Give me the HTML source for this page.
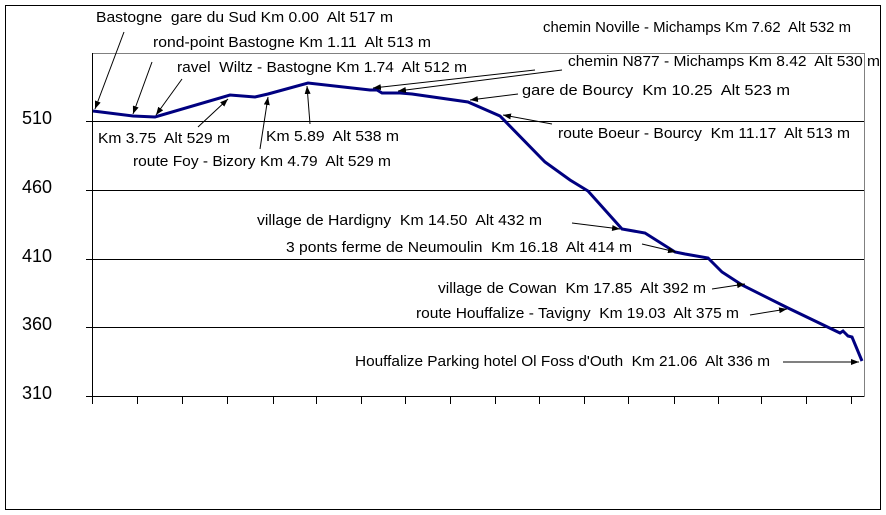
<!DOCTYPE html>
<html><head><style>body{margin:0;background:#fff}svg{display:block}text{font-family:"Liberation Sans",Arial,sans-serif;font-size:14.5px;fill:#000;white-space:pre}text.y{font-size:18px}</style></head><body>
<svg width="886" height="515" viewBox="0 0 886 515" xml:space="preserve">
<defs><marker id="a" markerWidth="8" markerHeight="6" refX="8" refY="3" orient="auto" markerUnits="userSpaceOnUse"><path d="M0,0L8,3L0,6z" fill="#000"/></marker></defs>
<rect x="5.5" y="5.5" width="875" height="504" fill="#fff" stroke="#000"/>
<rect x="92.5" y="53.5" width="772" height="343" fill="none" stroke="#808080"/>
<g stroke="#000" stroke-width="1">
<line x1="86" y1="121.5" x2="864" y2="121.5"/><line x1="86" y1="190.5" x2="864" y2="190.5"/><line x1="86" y1="259.5" x2="864" y2="259.5"/><line x1="86" y1="327.5" x2="864" y2="327.5"/><line x1="86" y1="396.5" x2="864" y2="396.5"/>
<line x1="92.5" y1="53" x2="92.5" y2="397"/>
<path d="M92.5 396v8M137.5 396v8M182.5 396v8M227.5 396v8M273.5 396v8M316.5 396v8M361.5 396v8M405.5 396v8M450.5 396v8M495.5 396v8M539.5 396v8M584.5 396v8M628.5 396v8M674.5 396v8M718.5 396v8M761.5 396v8M806.5 396v8M851.5 396v8"/>
</g>
<text class="y" x="22" y="124">510</text><text class="y" x="22" y="193">460</text><text class="y" x="22" y="262">410</text><text class="y" x="22" y="330">360</text><text class="y" x="22" y="399">310</text>
<polyline fill="none" stroke="#000080" stroke-width="3" points="93,111 133,116 155,117 230,95 255,97 268,94 308,83 370,90 377,90 382,93 400,93 412,94 468,102 500,116 545,162 570,180 588,191 622,229 645,233 675,252 685,254 708,258 722,272 742,285 788,308 840,333 843,331 848,336 852,337 862,361"/>
<g stroke="#000" stroke-width="1" marker-end="url(#a)">
<line x1="124" y1="32" x2="95" y2="109"/>
<line x1="152" y1="62" x2="133" y2="114"/>
<line x1="182" y1="79" x2="156" y2="115"/>
<line x1="198" y1="127" x2="228" y2="99"/>
<line x1="260" y1="149" x2="268" y2="97"/>
<line x1="310" y1="124" x2="307" y2="86"/>
<line x1="535" y1="70" x2="373" y2="88"/>
<line x1="562" y1="70" x2="398" y2="91"/>
<line x1="518" y1="94" x2="470" y2="100"/>
<line x1="552" y1="124" x2="503" y2="115"/>
<line x1="572" y1="223" x2="620" y2="229"/>
<line x1="642" y1="244" x2="676" y2="252"/>
<line x1="712" y1="289" x2="745" y2="284"/>
<line x1="750" y1="315" x2="787" y2="309"/>
<line x1="783" y1="362" x2="859" y2="362"/>
</g>
<text x="96" y="22" textLength="297" lengthAdjust="spacingAndGlyphs">Bastogne  gare du Sud Km 0.00  Alt 517 m</text>
<text x="153" y="47" textLength="278" lengthAdjust="spacingAndGlyphs">rond-point Bastogne Km 1.11  Alt 513 m</text>
<text x="177" y="72" textLength="290" lengthAdjust="spacingAndGlyphs">ravel  Wiltz - Bastogne Km 1.74  Alt 512 m</text>
<text x="98" y="143" textLength="132" lengthAdjust="spacingAndGlyphs">Km 3.75  Alt 529 m</text>
<text x="266" y="141" textLength="133" lengthAdjust="spacingAndGlyphs">Km 5.89  Alt 538 m</text>
<text x="133" y="166" textLength="258" lengthAdjust="spacingAndGlyphs">route Foy - Bizory Km 4.79  Alt 529 m</text>
<text x="543" y="32" textLength="308" lengthAdjust="spacingAndGlyphs">chemin Noville - Michamps Km 7.62  Alt 532 m</text>
<text x="568" y="66" textLength="312" lengthAdjust="spacingAndGlyphs">chemin N877 - Michamps Km 8.42  Alt 530 m</text>
<text x="522" y="95" textLength="268" lengthAdjust="spacingAndGlyphs">gare de Bourcy  Km 10.25  Alt 523 m</text>
<text x="558" y="138" textLength="292" lengthAdjust="spacingAndGlyphs">route Boeur - Bourcy  Km 11.17  Alt 513 m</text>
<text x="257" y="225" textLength="285" lengthAdjust="spacingAndGlyphs">village de Hardigny  Km 14.50  Alt 432 m</text>
<text x="286" y="252" textLength="346" lengthAdjust="spacingAndGlyphs">3 ponts ferme de Neumoulin  Km 16.18  Alt 414 m</text>
<text x="438" y="293" textLength="268" lengthAdjust="spacingAndGlyphs">village de Cowan  Km 17.85  Alt 392 m</text>
<text x="416" y="318" textLength="323" lengthAdjust="spacingAndGlyphs">route Houffalize - Tavigny  Km 19.03  Alt 375 m</text>
<text x="355" y="366" textLength="415" lengthAdjust="spacingAndGlyphs">Houffalize Parking hotel Ol Foss d'Outh  Km 21.06  Alt 336 m</text>
</svg>
</body></html>
